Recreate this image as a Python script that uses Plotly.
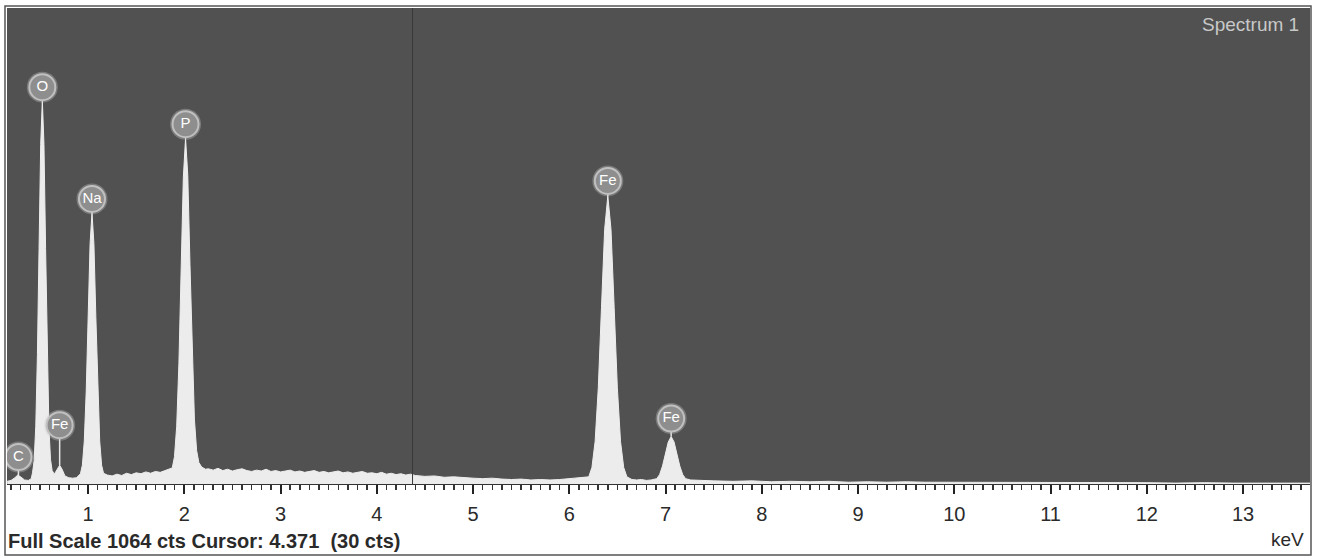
import plotly.graph_objects as go

# ---- data ----
energy_kev = [
    0.16, 0.20, 0.24, 0.27, 0.30, 0.34, 0.38, 0.41,
    0.423, 0.440, 0.457, 0.474, 0.491, 0.508, 0.525, 0.542, 0.559, 0.576, 0.593, 0.610, 0.627,
    0.65, 0.68, 0.705, 0.73, 0.76, 0.80, 0.84, 0.88,
    0.921, 0.941, 0.961, 0.981, 1.001, 1.021, 1.041, 1.061, 1.081, 1.101, 1.121, 1.141, 1.161,
    1.20, 1.25, 1.30, 1.35, 1.40, 1.45, 1.50, 1.55, 1.60, 1.65, 1.70, 1.75, 1.80, 1.85,
    1.875, 1.898, 1.921, 1.944, 1.967, 1.990, 2.013, 2.036, 2.059, 2.082, 2.105, 2.128, 2.151, 2.18, 2.22,
    2.25, 2.30, 2.35, 2.40, 2.45, 2.50, 2.55, 2.60, 2.65, 2.70, 2.75, 2.80, 2.85, 2.90, 2.95,
    3.00, 3.05, 3.10, 3.15, 3.20, 3.25, 3.30, 3.35, 3.40, 3.45, 3.50, 3.55, 3.60, 3.65, 3.70,
    3.75, 3.80, 3.85, 3.90, 3.95, 4.00, 4.05, 4.10, 4.15, 4.20, 4.25, 4.30, 4.35, 4.40,
    4.50, 4.60, 4.70, 4.80, 4.90, 5.00, 5.10, 5.20, 5.30, 5.40, 5.50, 5.60, 5.70, 5.80, 5.90, 6.00, 6.05,
    6.202, 6.235, 6.268, 6.301, 6.334, 6.367, 6.400, 6.433, 6.466, 6.499, 6.532, 6.565, 6.598,
    6.65, 6.70, 6.75, 6.80, 6.85,
    6.908, 6.938, 6.968, 6.998, 7.028, 7.058, 7.088, 7.118, 7.148, 7.178, 7.208, 7.26, 7.35,
    7.5, 7.7, 7.9, 8.1, 8.3, 8.5, 8.7, 8.9, 9.1, 9.3, 9.5, 9.7, 9.9, 10.2, 10.5, 10.8,
    11.1, 11.4, 11.7, 12.0, 12.3, 12.6, 12.9, 13.2, 13.5, 13.7,
]
counts = [
    6, 8, 14, 20, 16, 9, 8, 12,
    25, 52, 129, 289, 526, 759, 858, 759, 526, 289, 129, 55, 30,
    22, 34, 42, 33, 18, 14, 13, 14,
    23, 42, 96, 208, 374, 537, 606, 537, 374, 208, 96, 42, 24,
    20, 18, 22, 19, 24, 21, 25, 23, 27, 24, 28, 26, 30, 34,
    36, 61, 129, 270, 480, 685, 773, 690, 490, 285, 145, 75, 48, 38, 33,
    34, 31, 35, 30, 33, 29, 32, 34, 30, 28, 31, 29, 33, 28, 30,
    27, 29, 31, 27, 29, 26, 28, 30, 26, 28, 25, 27, 29, 25, 27,
    24, 26, 28, 24, 25, 23, 26, 22, 24, 21, 23, 20, 22, 19,
    17, 18, 15, 16, 14, 13, 12, 13, 11, 10, 11, 9, 10, 9, 10, 11, 13,
    16, 37, 95, 215, 394, 569, 644, 569, 394, 215, 95, 37, 16,
    10, 9, 10, 8, 9,
    12, 21, 40, 67, 94, 106, 94, 67, 40, 21, 12, 9, 8,
    7, 6, 7, 5, 6, 5, 6, 4, 5, 4, 5, 4, 4, 3, 4, 3,
    3, 4, 3, 3, 2, 3, 2, 2, 2, 2,
]

peak_labels = ["C", "O", "Fe", "Na", "P", "Fe", "Fe"]
peak_energy = [0.277, 0.525, 0.705, 1.041, 2.013, 6.400, 7.058]

full_scale = 1064
cursor_kev = 4.371
cursor_cts = 30
x_ticks = list(range(1, 14))

# ---- layout constants ----
W, H = 1321, 560
ML, MR, MT, MB = 7, 11, 8, 76
plot_h = H - MT - MB
cts_per_px = full_scale / plot_h
label_gap_px = [18, 13, 40, 14, 14, 15, 18]
FONT = "Arial, Liberation Sans, sans-serif"

fig = go.Figure()

fig.add_trace(go.Scatter(
    x=energy_kev, y=counts, mode="lines", fill="tozeroy",
    line=dict(color="#eeeeee", width=1), fillcolor="#ececec",
    hoverinfo="skip", showlegend=False,
))


def peak_height(e):
    near = [c for x, c in zip(energy_kev, counts) if abs(x - e) <= 0.03]
    return max(near) if near else 0


lab_y = []
for e, g in zip(peak_energy, label_gap_px):
    top = peak_height(e)
    ly = top + g * cts_per_px
    lab_y.append(ly)
    fig.add_trace(go.Scatter(
        x=[e, e], y=[top, ly], mode="lines",
        line=dict(color="#e6e6e6", width=1.5),
        hoverinfo="skip", showlegend=False,
    ))

fig.add_trace(go.Scatter(
    x=peak_energy, y=lab_y, mode="markers",
    marker=dict(size=31, color="rgba(200,200,200,0.35)", line=dict(width=0)),
    hoverinfo="skip", showlegend=False,
))
fig.add_trace(go.Scatter(
    x=peak_energy, y=lab_y, mode="markers+text",
    text=peak_labels, textposition="middle center",
    textfont=dict(family=FONT, size=15, color="#ffffff"),
    marker=dict(size=26, color="#8e8e8e", line=dict(color="#c0c0c0", width=2)),
    hoverinfo="skip", showlegend=False,
))

shapes = [
    dict(type="line", xref="x", yref="paper", x0=cursor_kev, x1=cursor_kev, y0=0, y1=1,
         line=dict(color="#3a3a3a", width=1)),
    dict(type="rect", xref="paper", yref="paper",
         x0=-2 / (W - ML - MR), x1=1 + 1 / (W - ML - MR),
         y0=-(555 - (H - MB)) / plot_h, y1=1 + 2 / plot_h,
         line=dict(color="#555555", width=1.5)),
]

annotations = [
    dict(text="Spectrum 1", xref="paper", yref="paper", x=1, y=1, xanchor="right", yanchor="top",
         xshift=-9, yshift=-4, showarrow=False,
         font=dict(family=FONT, size=19, color="#c8c8c8")),
    dict(text=f"<b>Full Scale {full_scale} cts Cursor: {cursor_kev:.3f}  ({cursor_cts} cts)</b>",
         xref="paper", yref="paper", x=0, y=0, xanchor="left", yanchor="middle",
         xshift=-1, yshift=-(541 - (H - MB)), showarrow=False,
         font=dict(family=FONT, size=20, color="#2a2a2a")),
    dict(text="keV", xref="paper", yref="paper", x=1, y=0, xanchor="right", yanchor="middle",
         xshift=-4, yshift=-(539 - (H - MB)), showarrow=False,
         font=dict(family=FONT, size=19, color="#2a2a2a")),
]

fig.update_layout(
    width=W, height=H,
    margin=dict(l=ML, r=MR, t=MT, b=MB),
    paper_bgcolor="#ffffff", plot_bgcolor="#515151",
    shapes=shapes, annotations=annotations,
    xaxis=dict(
        range=[0.158, 13.695], tickvals=x_ticks, ticktext=[str(t) for t in x_ticks],
        ticks="outside", ticklen=9, tickwidth=2, tickcolor="#222222",
        minor=dict(dtick=0.1, tick0=0, ticks="outside", ticklen=5, tickwidth=1.5, tickcolor="#333333"),
        showgrid=False, zeroline=False, showline=True, linecolor="#333333", linewidth=1,
        tickfont=dict(family=FONT, size=20, color="#2a2a2a"),
        ticklabelstandoff=3,
    ),
    yaxis=dict(range=[0, full_scale], visible=False, showgrid=False, zeroline=False),
)

fig.write_html(
    "out.html",
    config={"displayModeBar": False, "staticPlot": True},
    post_script="document.body.style.margin='0';document.body.style.padding='0';",
)
